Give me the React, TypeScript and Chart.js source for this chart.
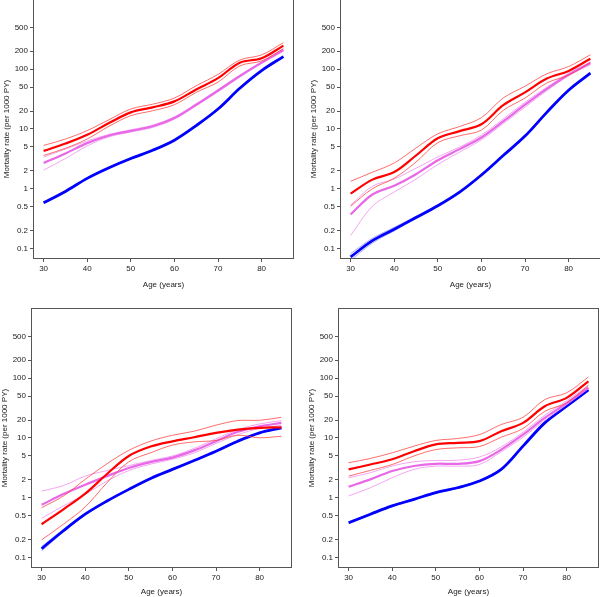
import React, { useEffect, useRef } from "react";
import { Chart, registerables } from "chart.js";

Chart.register(...registerables);

// ---------- data ----------
const ages = [30, 35, 40, 45, 50, 55, 60, 65, 70, 75, 80, 85];
const xTicks = [30, 40, 50, 60, 70, 80];
const yTicks = [0.1, 0.2, 0.5, 1, 2, 5, 10, 20, 50, 100, 200, 500];
const xTitle = "Age (years)";
const yTitle = "Mortality rate (per 1000 PY)";

// Panel 1 (top-left)
const p1RedMain = [4.3, 5.7, 8.0, 12.6, 19, 23, 29, 46, 71, 129, 153, 249];
const p1RedUpper = [5.3, 6.8, 9.4, 14.3, 21.6, 26, 33, 53, 82, 143, 174, 279];
const p1RedLower = [3.6, 4.75, 6.8, 11.1, 16.7, 20.2, 25.5, 41, 61, 114, 138, 221];
const p1VioMain = [2.7, 3.9, 5.8, 7.8, 9.3, 11.1, 15.3, 25.5, 44, 77, 129, 210];
const p1VioUpper = [3.4, 4.6, 6.3, 8.1, 9.7, 11.6, 16, 26.5, 46, 80, 133, 218];
const p1VioLower = [2.05, 3.2, 5.2, 7.4, 8.9, 10.6, 14.6, 24.5, 42, 74, 125, 200];
const p1BlueMain = [0.58, 0.9, 1.49, 2.24, 3.2, 4.4, 6.5, 11.4, 21.6, 48, 95, 163];
const p1BlueUpper = [0.6, 0.93, 1.53, 2.3, 3.28, 4.5, 6.65, 11.7, 22.1, 49, 97, 166];
const p1BlueLower = [0.56, 0.87, 1.45, 2.18, 3.12, 4.3, 6.35, 11.1, 21.1, 47, 93, 160];

// Panel 2 (top-right)
const p2RedMain = [0.83, 1.42, 1.9, 3.6, 7.0, 9.2, 12, 25, 41, 70, 94, 150];
const p2RedUpper = [1.33, 1.89, 2.7, 4.8, 8.3, 11, 15.5, 33, 52, 84, 111, 175];
const p2RedLower = [0.51, 1.0, 1.5, 2.8, 5.9, 7.7, 9.6, 20.5, 33, 59, 80, 130];
const p2VioMain = [0.37, 0.8, 1.12, 1.75, 3.0, 4.6, 7.2, 13.4, 25.5, 47, 81, 127];
const p2VioUpper = [0.53, 1.1, 1.45, 2.2, 3.4, 5.0, 7.9, 14.7, 28, 50, 86, 133];
const p2VioLower = [0.165, 0.51, 0.88, 1.45, 2.55, 4.1, 6.6, 12.3, 23.3, 44, 78, 120];
const p2BlueMain = [0.072, 0.135, 0.21, 0.33, 0.52, 0.88, 1.7, 3.6, 7.6, 19, 44.5, 86];
const p2BlueUpper = [0.082, 0.148, 0.225, 0.345, 0.54, 0.91, 1.75, 3.68, 7.8, 19.4, 45.5, 87.5];
const p2BlueLower = [0.063, 0.123, 0.197, 0.315, 0.5, 0.85, 1.65, 3.52, 7.4, 18.6, 43.5, 84.5];

// Panel 3 (bottom-left)
const p3RedMain = [0.36, 0.64, 1.17, 2.5, 5.0, 7.2, 8.8, 10.3, 12.2, 13.8, 14.8, 15.1];
const p3RedUpper = [0.68, 1.07, 2.03, 3.7, 6.2, 8.85, 11.1, 13, 16.4, 19.6, 19.8, 22.2];
const p3RedLower = [0.197, 0.36, 0.7, 1.78, 4.0, 5.65, 7.6, 8.6, 9.1, 11.1, 10.1, 10.7];
const p3VioMain = [0.76, 1.15, 1.65, 2.3, 3.15, 3.95, 4.7, 6.2, 8.85, 12.7, 15.7, 17.9];
const p3VioUpper = [1.29, 1.6, 2.3, 2.85, 3.45, 4.2, 5.0, 6.7, 9.7, 13.8, 17.2, 19.5];
const p3VioLower = [0.45, 0.73, 1.14, 1.9, 2.85, 3.65, 4.4, 5.65, 8.1, 11.4, 14.4, 16.4];
const p3BlueMain = [0.14, 0.28, 0.53, 0.88, 1.38, 2.1, 2.98, 4.2, 6.0, 8.85, 12.2, 14.8];
const p3BlueUpper = [0.152, 0.295, 0.55, 0.9, 1.41, 2.14, 3.04, 4.28, 6.1, 9.0, 12.4, 15.1];
const p3BlueLower = [0.128, 0.266, 0.51, 0.86, 1.35, 2.05, 2.92, 4.12, 5.9, 8.7, 12.0, 14.5];

// Panel 4 (bottom-right)
const p4RedMain = [2.98, 3.6, 4.4, 6.0, 7.8, 8.3, 8.85, 13, 17.9, 34, 47, 89];
const p4RedUpper = [3.85, 4.55, 5.65, 7.3, 9.1, 9.8, 11.4, 16.8, 22.2, 44, 57, 105];
const p4RedLower = [2.3, 2.87, 3.6, 5.0, 6.4, 6.85, 7.2, 10.3, 14.4, 28, 38.5, 76];
const p4VioMain = [1.53, 2.03, 2.8, 3.4, 3.7, 3.7, 4.1, 6.4, 11.4, 21.7, 38.5, 70];
const p4VioUpper = [2.16, 2.62, 3.4, 4.0, 4.2, 4.25, 4.8, 7.1, 12.5, 24, 42, 76];
const p4VioLower = [1.07, 1.47, 2.16, 2.98, 3.38, 3.38, 3.6, 5.9, 10.3, 19.8, 36, 67];
const p4BlueMain = [0.38, 0.53, 0.73, 0.94, 1.22, 1.47, 1.9, 2.98, 7.3, 17.9, 34, 64];
const p4BlueUpper = [0.395, 0.545, 0.75, 0.965, 1.25, 1.51, 1.95, 3.05, 7.5, 18.4, 35, 65.5];
const p4BlueLower = [0.365, 0.515, 0.71, 0.915, 1.19, 1.43, 1.85, 2.91, 7.1, 17.4, 33, 62.5];

// ---------- styling ----------
const RED = "#ff0000";
const RED_CI = "rgba(255,60,60,0.75)";
const VIO = "#e868e8";
const VIO_CI = "rgba(240,150,240,0.85)";
const BLUE = "#0000ff";
const BLUE_CI = "rgba(80,80,255,0.6)";
const FRAME = "#555555";
const TEXT = "#222222";
const FONT = "'Liberation Sans', Arial, Helvetica, sans-serif";

type PanelData = {
  redMain: number[]; redUpper: number[]; redLower: number[];
  vioMain: number[]; vioUpper: number[]; vioLower: number[];
  blueMain: number[]; blueUpper: number[]; blueLower: number[];
};

const panels: { data: PanelData; left: number; top: number; titlePad: number }[] = [
  { left: 33.5, top: 0, titlePad: 6.5, data: { redMain: p1RedMain, redUpper: p1RedUpper, redLower: p1RedLower, vioMain: p1VioMain, vioUpper: p1VioUpper, vioLower: p1VioLower, blueMain: p1BlueMain, blueUpper: p1BlueUpper, blueLower: p1BlueLower } },
  { left: 340.5, top: 0, titlePad: 6.5, data: { redMain: p2RedMain, redUpper: p2RedUpper, redLower: p2RedLower, vioMain: p2VioMain, vioUpper: p2VioUpper, vioLower: p2VioLower, blueMain: p2BlueMain, blueUpper: p2BlueUpper, blueLower: p2BlueLower } },
  { left: 31.5, top: 308.5, titlePad: 8, data: { redMain: p3RedMain, redUpper: p3RedUpper, redLower: p3RedLower, vioMain: p3VioMain, vioUpper: p3VioUpper, vioLower: p3VioLower, blueMain: p3BlueMain, blueUpper: p3BlueUpper, blueLower: p3BlueLower } },
  { left: 338.5, top: 308.5, titlePad: 8, data: { redMain: p4RedMain, redUpper: p4RedUpper, redLower: p4RedLower, vioMain: p4VioMain, vioUpper: p4VioUpper, vioLower: p4VioLower, blueMain: p4BlueMain, blueUpper: p4BlueUpper, blueLower: p4BlueLower } },
];

const AXIS_W = 34;
const AXIS_H = 38;
const PLOT_W = 259;
const PLOT_H = 258;
const CANVAS_W = AXIS_W + PLOT_W + 1;
const CANVAS_H = 1 + PLOT_H + AXIS_H;

const framePlugin = {
  id: "frameBox",
  afterDatasetsDraw(chart: any) {
    const { ctx, chartArea } = chart;
    ctx.save();
    ctx.strokeStyle = FRAME;
    ctx.lineWidth = 1;
    ctx.strokeRect(
      Math.round(chartArea.left) - 0.5,
      Math.round(chartArea.top) - 0.5,
      Math.round(chartArea.right - chartArea.left) + 1,
      Math.round(chartArea.bottom - chartArea.top) + 1
    );
    ctx.restore();
  },
};

function series(vals: number[], color: string, width: number) {
  return {
    data: ages.map((a, i) => ({ x: a, y: vals[i] })),
    borderColor: color,
    borderWidth: width,
    pointRadius: 0,
    fill: false,
    tension: 0.35,
  };
}

function Panel({ data, left, top, titlePad }: { data: PanelData; left: number; top: number; titlePad: number }) {
  const ref = useRef<HTMLCanvasElement | null>(null);
  useEffect(() => {
    if (!ref.current) return;
    const chart = new Chart(ref.current, {
      type: "line",
      data: {
        datasets: [
          series(data.redMain, RED, 2.2),
          series(data.redUpper, RED_CI, 1),
          series(data.redLower, RED_CI, 1),
          series(data.vioMain, VIO, 2.2),
          series(data.vioUpper, VIO_CI, 1),
          series(data.vioLower, VIO_CI, 1),
          series(data.blueMain, BLUE, 2.8),
          series(data.blueUpper, BLUE_CI, 0.8),
          series(data.blueLower, BLUE_CI, 0.8),
        ] as any,
      },
      options: {
        animation: false,
        responsive: false,
        devicePixelRatio: 1,
        layout: { padding: { top: 1, right: 1, left: 0, bottom: 0 } },
        plugins: { legend: { display: false }, tooltip: { enabled: false } },
        scales: {
          x: {
            type: "linear",
            min: 27.8,
            max: 87.2,
            afterBuildTicks: (s: any) => { s.ticks = xTicks.map((v) => ({ value: v })); },
            afterFit: (s: any) => { s.height = AXIS_H; s.paddingLeft = 0; s.paddingRight = 0; },
            grid: { display: true, drawOnChartArea: false, drawTicks: true, tickLength: 4, color: FRAME },
            border: { display: false },
            ticks: { font: { family: FONT, size: 8 }, color: TEXT, padding: 2, maxRotation: 0, autoSkip: false, callback: (v: any) => String(v) },
            title: { display: true, text: xTitle, font: { family: FONT, size: 8 }, color: TEXT, padding: { top: 0, bottom: titlePad } },
          },
          y: {
            type: "logarithmic",
            min: 0.0692,
            max: 1445,
            afterBuildTicks: (s: any) => { s.ticks = yTicks.map((v) => ({ value: v })); },
            afterFit: (s: any) => { s.width = AXIS_W; s.paddingTop = 0; s.paddingBottom = 0; },
            grid: { display: true, drawOnChartArea: false, drawTicks: true, tickLength: 4, color: FRAME },
            border: { display: false },
            ticks: { font: { family: FONT, size: 8 }, color: TEXT, padding: 2, autoSkip: false, callback: (v: any) => String(v) },
            title: { display: true, text: yTitle, font: { family: FONT, size: 8 }, color: TEXT, padding: { top: 2, bottom: 0 } },
          },
        },
      },
      plugins: [framePlugin],
    } as any);
    return () => chart.destroy();
  }, [data, titlePad]);
  return (
    <canvas
      ref={ref}
      width={CANVAS_W}
      height={CANVAS_H}
      style={{ position: "absolute", left: left - AXIS_W, top: top - 1, width: CANVAS_W, height: CANVAS_H }}
    />
  );
}

export default function App() {
  return (
    <div style={{ position: "absolute", left: 0, top: 0, width: 600, height: 597, background: "#fff", overflow: "hidden" }}>
      {panels.map((p, i) => (
        <Panel key={i} data={p.data} left={p.left} top={p.top} titlePad={p.titlePad} />
      ))}
    </div>
  );
}
